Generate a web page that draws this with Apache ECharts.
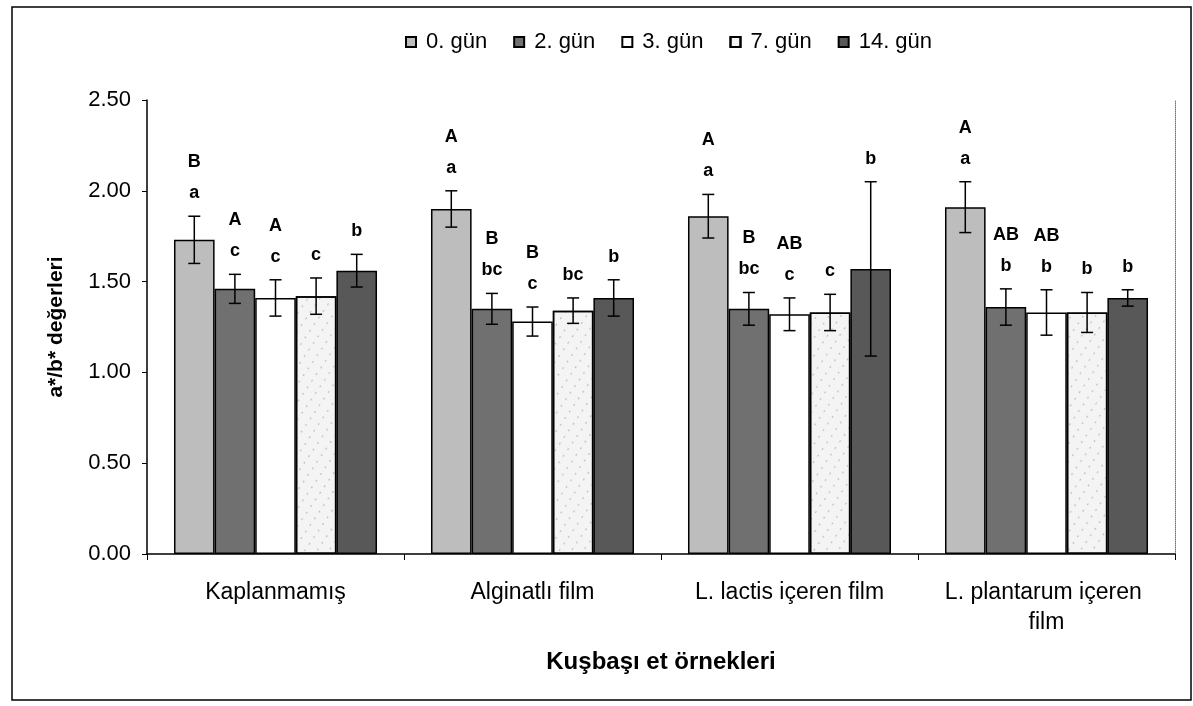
<!DOCTYPE html>
<html>
<head>
<meta charset="utf-8">
<script src="https://cdn.jsdelivr.net/npm/echarts@6/dist/echarts.min.js"></script>
<style>html,body{margin:0;padding:0;background:#fff;}#c{width:1193px;height:706px;}</style>
</head>
<body>
<div id="c"></div>
<script>
// ---- data ----
var categories = ['Kaplanmamış', 'Alginatlı film', 'L. lactis içeren film', 'L. plantarum içeren film'];
var seriesNames = ['0. gün', '2. gün', '3. gün', '7. gün', '14. gün'];
var day0 = [1.73, 1.90, 1.86, 1.91];
var day2 = [1.46, 1.35, 1.35, 1.36];
var day3 = [1.41, 1.28, 1.32, 1.33];
var day7 = [1.42, 1.34, 1.33, 1.33];
var day14 = [1.56, 1.41, 1.57, 1.41];
var err0 = [0.13, 0.10, 0.12, 0.14];
var err2 = [0.08, 0.085, 0.09, 0.10];
var err3 = [0.10, 0.08, 0.09, 0.125];
var err7 = [0.10, 0.07, 0.10, 0.11];
var err14 = [0.09, 0.10, 0.48, 0.045];
var upper0 = ['B', 'A', 'A', 'A'];
var upper2 = ['A', 'B', 'B', 'AB'];
var upper3 = ['A', 'B', 'AB', 'AB'];
var upper7 = ['', '', '', ''];
var upper14 = ['', '', '', ''];
var lower0 = ['a', 'a', 'a', 'a'];
var lower2 = ['c', 'bc', 'bc', 'b'];
var lower3 = ['c', 'c', 'c', 'b'];
var lower7 = ['c', 'bc', 'c', 'b'];
var lower14 = ['b', 'b', 'b', 'b'];
var yTicks = { min: 0, max: 2.5, interval: 0.5 };

// ---- build ----
var values = [day0, day2, day3, day7, day14];
var errs = [err0, err2, err3, err7, err14];
var uppers = [upper0, upper2, upper3, upper7, upper14];
var lowers = [lower0, lower2, lower3, lower7, lower14];
var colors = ['#bdbdbd', '#707070', '#ffffff', '#f4f4f4', '#585858'];
var GAP = 0.21;
var FONT = '"Liberation Sans", Arial, sans-serif';

var series = [];
values.forEach(function (vals, i) {
  var item = { color: colors[i], borderColor: '#000', borderWidth: 1.5 };
  if (i === 3) {
    item.decal = { symbol: 'circle', symbolSize: 0.35, dashArrayX: 5, dashArrayY: 4, rotation: 0.6, color: 'rgba(90,90,90,0.55)' };
  }
  series.push({
    name: seriesNames[i], type: 'bar', data: vals,
    barGap: '0%', barCategoryGap: (GAP * 100) + '%',
    itemStyle: item, emphasis: { disabled: true }, z: 2
  });
});
values.forEach(function (vals, i) {
  series.push({
    name: 'err' + i, type: 'custom', z: 5, silent: true,
    data: vals.map(function (v, k) { return [k, v, errs[i][k]]; }),
    renderItem: function (params, api) {
      var ci = api.value(0), v = api.value(1), e = api.value(2);
      var c = api.coord([ci, v]);
      var band = api.size([1, 0])[0];
      var gw = band * (1 - GAP), bw = gw / 5;
      var x = c[0] - gw / 2 + bw * (i + 0.5);
      var top = api.coord([ci, v + e])[1], bot = api.coord([ci, v - e])[1];
      var cap = 6;
      var st = { stroke: '#000', lineWidth: 1.5 };
      var k = params.dataIndex;
      var children = [
        { type: 'line', shape: { x1: x, y1: top, x2: x, y2: bot }, style: st },
        { type: 'line', shape: { x1: x - cap, y1: top, x2: x + cap, y2: top }, style: st },
        { type: 'line', shape: { x1: x - cap, y1: bot, x2: x + cap, y2: bot }, style: st }
      ];
      var lf = 'bold 18px ' + FONT;
      if (lowers[i][k]) children.push({ type: 'text', style: { text: lowers[i][k], x: x, y: top - 23, align: 'center', verticalAlign: 'middle', font: lf, fill: '#000' } });
      if (uppers[i][k]) children.push({ type: 'text', style: { text: uppers[i][k], x: x, y: top - 54, align: 'center', verticalAlign: 'middle', font: lf, fill: '#000' } });
      return { type: 'group', children: children };
    }
  });
});

var chart = echarts.init(document.getElementById('c'), null, { renderer: 'canvas' });
chart.setOption({
  backgroundColor: '#fff',
  animation: false,
  textStyle: { fontFamily: FONT, color: '#000' },
  graphic: [{ type: 'rect', shape: { x: 12, y: 7, width: 1179, height: 693 }, style: { fill: 'none', stroke: '#000', lineWidth: 1.5 }, silent: true }],
  legend: {
    data: seriesNames, top: 26, left: 400, itemWidth: 10, itemHeight: 10, itemGap: 26,
    icon: 'rect', textStyle: { fontSize: 22, color: '#000', fontFamily: FONT, padding: [0, 0, 0, 5] }
  },
  grid: { left: 147, right: 18, top: 100, bottom: 152, containLabel: false },
  xAxis: {
    type: 'category', data: categories,
    axisLine: { lineStyle: { color: '#000', width: 1.5 } },
    axisTick: { show: true, length: 6, interval: 0, lineStyle: { color: '#000' } },
    axisLabel: { interval: 0, fontSize: 23, color: '#000', margin: 24, lineHeight: 30, width: 250, overflow: 'break', fontFamily: FONT },
    name: 'Kuşbaşı et örnekleri', nameLocation: 'middle', nameGap: 96,
    nameTextStyle: { fontSize: 24, fontWeight: 'bold', color: '#000', fontFamily: FONT }
  },
  yAxis: [{
    type: 'value', min: yTicks.min, max: yTicks.max, interval: yTicks.interval,
    axisLine: { show: true, lineStyle: { color: '#000', width: 1.5 } },
    axisTick: { show: true, length: 5, lineStyle: { color: '#000' } },
    splitLine: { show: false },
    axisLabel: { fontSize: 22, color: '#000', margin: 16, formatter: function (v) { return v.toFixed(2); }, fontFamily: FONT },
    name: 'a*/b* değerleri', nameLocation: 'middle', nameGap: 80,
    nameTextStyle: { fontSize: 21, fontWeight: 'bold', color: '#000', fontFamily: FONT }
  }, {
    type: 'value', position: 'right', min: yTicks.min, max: yTicks.max, interval: yTicks.interval,
    axisLine: { show: true, lineStyle: { color: '#777', width: 1, type: 'dotted' } },
    axisTick: { show: false }, axisLabel: { show: false }, splitLine: { show: false }
  }],
  series: series
});
</script>
</body>
</html>
